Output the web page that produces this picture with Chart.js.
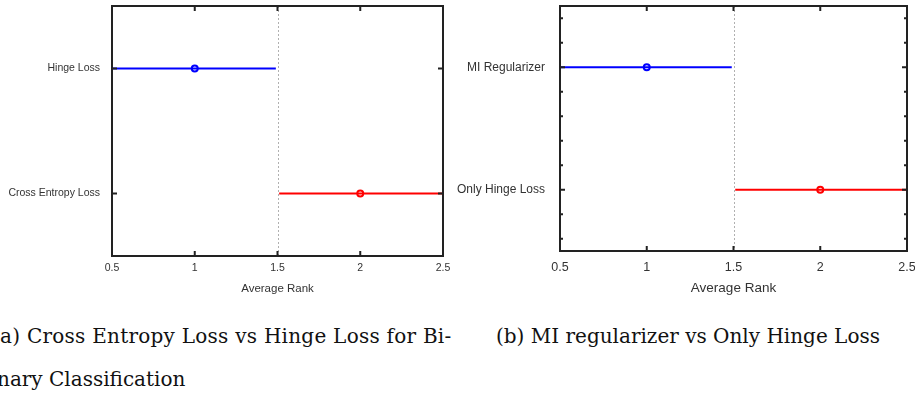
<!DOCTYPE html>
<html>
<head>
<meta charset="utf-8">
<script src="https://cdn.jsdelivr.net/npm/chart.js@4.4.0/dist/chart.umd.min.js"></script>
<style>
  body { margin: 0; width: 915px; height: 396px; background: #fff; position: relative; overflow: hidden; }
  .panel { position: absolute; top: 0; height: 300px; }
  #pa { left: 0; width: 460px; }
  #pb { left: 440px; width: 475px; }
  .cap { position: absolute; font-family: 'DejaVu Serif', serif; font-size: 20px; line-height: 24px; color: #111; white-space: nowrap; }
</style>
</head>
<body>
<div class="panel" id="pa"><canvas id="ca" width="460" height="300"></canvas></div>
<div class="panel" id="pb"><canvas id="cb" width="475" height="300"></canvas></div>
<div class="cap" style="left:-8px; top:324px; letter-spacing:0.25px;">(a) Cross Entropy Loss vs Hinge Loss for Bi-</div>
<div class="cap" style="left:-3px; top:367px;">nary Classification</div>
<div class="cap" style="left:496px; top:324px;">(b) MI regularizer vs Only Hinge Loss</div>
<script>
// ---- data ----
const xTicks = [0.5, 1, 1.5, 2, 2.5];
const refLines = [0.5, 1.5];          // dotted vertical lines
const colors = ['#0000ff', '#ff0000'];

const labelsA = ['Hinge Loss', 'Cross Entropy Loss'];
const meansA = [1, 2];
const lowA = [0.5, 1.51];
const highA = [1.49, 2.5];
const yTicksA = [1, 2];

const labelsB = ['MI Regularizer', 'Only Hinge Loss'];
const meansB = [1, 2];
const lowB = [0.5, 1.51];
const highB = [1.49, 2.5];
const yTicksB = [0.6, 0.8, 1, 1.2, 1.4, 1.6, 1.8, 2, 2.2, 2.4];

const FONT = "'Liberation Sans', sans-serif";

// box, inward ticks and dotted reference lines (MATLAB look)
const framePlugin = {
  id: 'frame',
  beforeDatasetsDraw(chart) {
    const { ctx, chartArea: a, scales: { x } } = chart;
    ctx.save();
    ctx.strokeStyle = '#b0b0b0';
    ctx.lineWidth = 1;
    ctx.setLineDash([2, 2]);
    refLines.forEach(v => {
      const px = Math.round(x.getPixelForValue(v)) + 0.5;
      ctx.beginPath();
      ctx.moveTo(px, a.top);
      ctx.lineTo(px, a.bottom);
      ctx.stroke();
    });
    ctx.restore();
  },
  afterDraw(chart) {
    const { ctx, chartArea: a, scales: { x, y } } = chart;
    ctx.save();
    ctx.strokeStyle = '#222';
    ctx.lineWidth = 2;
    ctx.beginPath();
    x.ticks.forEach(t => {
      if (t.value <= x.min || t.value >= x.max) return;
      const px = x.getPixelForValue(t.value);
      ctx.moveTo(px, a.bottom); ctx.lineTo(px, a.bottom - 5);
      ctx.moveTo(px, a.top); ctx.lineTo(px, a.top + 5);
    });
    y.ticks.forEach(t => {
      const py = y.getPixelForValue(t.value);
      const len = Number.isInteger(t.value) ? 5 : 3;
      ctx.moveTo(a.left, py); ctx.lineTo(a.left + len, py);
      ctx.moveTo(a.right, py); ctx.lineTo(a.right - len, py);
    });
    ctx.stroke();
    ctx.strokeRect(a.left, a.top, a.right - a.left, a.bottom - a.top);
    ctx.restore();
  }
};

function makeChart(canvas, labels, means, low, high, yTicks, cfg) {
  const datasets = [];
  labels.forEach((lab, i) => {
    datasets.push({
      label: lab + ' interval',
      data: [{ x: low[i], y: i + 1 }, { x: high[i], y: i + 1 }],
      showLine: true,
      borderColor: colors[i],
      borderWidth: 2,
      pointRadius: 0
    });
    datasets.push({
      label: lab,
      data: [{ x: means[i], y: i + 1 }],
      borderColor: colors[i],
      backgroundColor: 'rgba(255,255,255,0.7)',
      borderWidth: 2,
      pointRadius: 3
    });
  });

  return new Chart(canvas, {
    type: 'scatter',
    data: { datasets },
    options: {
      responsive: false,
      animation: false,
      layout: { padding: { top: 4, right: cfg.padRight, left: 0, bottom: 0 } },
      plugins: { legend: { display: false }, tooltip: { enabled: false } },
      scales: {
        x: {
          type: 'linear',
          min: 0.5,
          max: 2.5,
          afterBuildTicks: s => { s.ticks = xTicks.map(v => ({ value: v })); },
          afterFit: s => { s.height = cfg.xHeight; s.paddingLeft = 0; s.paddingRight = 0; },
          grid: { display: false, drawTicks: false },
          border: { display: false },
          ticks: { color: '#333', font: { family: FONT, size: cfg.tickSize }, padding: cfg.xPad, autoSkip: false, maxRotation: 0, callback: v => String(v) },
          title: { display: true, text: 'Average Rank', color: '#333', font: { family: FONT, size: cfg.titleSize }, padding: { top: 0, bottom: cfg.titlePad } }
        },
        y: {
          type: 'linear',
          min: 0.5,
          max: 2.5,
          reverse: true,
          afterBuildTicks: s => { s.ticks = yTicks.map(v => ({ value: v })); },
          afterFit: s => { s.width = cfg.yWidth; s.paddingTop = 0; s.paddingBottom = 0; },
          grid: { display: false, drawTicks: false },
          border: { display: false },
          ticks: {
            color: '#333',
            font: { family: FONT, size: cfg.labelSize },
            padding: cfg.yPad,
            autoSkip: false,
            callback: v => (Number.isInteger(v) ? labels[v - 1] : '')
          }
        }
      }
    },
    plugins: [framePlugin]
  });
}

makeChart(document.getElementById('ca'), labelsA, meansA, lowA, highA, yTicksA, {
  padRight: 17, xHeight: 44, yWidth: 112, tickSize: 10.5, labelSize: 10.5, titleSize: 11.5, xPad: 6, yPad: 12, titlePad: 4
});
makeChart(document.getElementById('cb'), labelsB, meansB, lowB, highB, yTicksB, {
  padRight: 8, xHeight: 49, yWidth: 120, tickSize: 12.5, labelSize: 12, titleSize: 13.5, xPad: 9, yPad: 15, titlePad: 4
});
</script>
</body>
</html>
